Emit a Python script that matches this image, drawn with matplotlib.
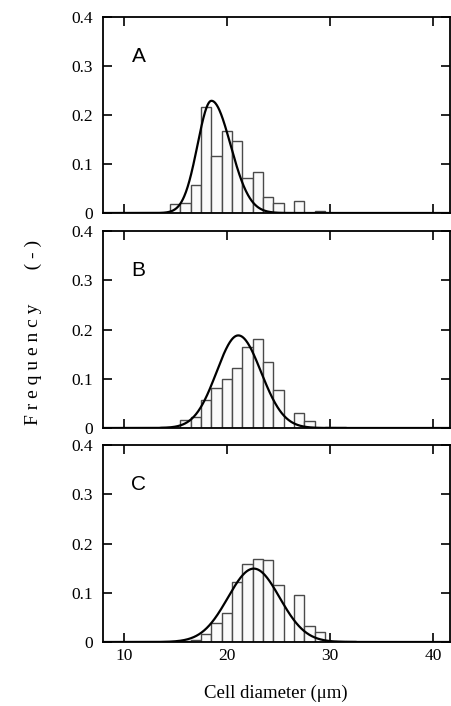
import numpy as np
import matplotlib
matplotlib.use("Agg")
import matplotlib.pyplot as plt
from matplotlib.ticker import FixedLocator, FuncFormatter

# ---------------- data ----------------
bin_centers = list(range(14, 33))  # cell diameter bins (um), width 1

freq_A = [0.000, 0.018, 0.020, 0.058, 0.216, 0.116, 0.168, 0.147, 0.071, 0.083,
          0.033, 0.021, 0.000, 0.024, 0.000, 0.004, 0.000, 0.000, 0.000]
freq_B = [0.002, 0.000, 0.016, 0.022, 0.057, 0.082, 0.100, 0.122, 0.165, 0.181,
          0.135, 0.077, 0.000, 0.031, 0.015, 0.000, 0.002, 0.002, 0.000]
freq_C = [0.000, 0.000, 0.002, 0.005, 0.016, 0.039, 0.059, 0.122, 0.158, 0.169,
          0.166, 0.115, 0.000, 0.096, 0.033, 0.020, 0.000, 0.002, 0.002]

panel_labels = ["A", "B", "C"]

# fitted distribution parameters (mode, peak height, left/right widths)
fit_mode = [18.5, 21.1, 22.6]
fit_peak = [0.229, 0.188, 0.149]
fit_sigma_left = [1.35, 2.1, 2.5]
fit_sigma_right = [1.85, 2.2, 2.5]

x_ticks = [10, 20, 30, 40]
y_ticks = [0, 0.1, 0.2, 0.3, 0.4]

# ---------------- figure ----------------
W, H = 451, 706
fig = plt.figure(figsize=(W / 100, H / 100), dpi=100)

serif = "Liberation Serif"
sans = "Liberation Sans"

left_px, right_px = 103, 450
panels_px = [(17, 213), (231, 428), (445, 642)]

all_freqs = [freq_A, freq_B, freq_C]

def ytick_fmt(v, pos):
    return "0" if abs(v) < 1e-9 else f"{v:.1f}"

for i, (top, bot) in enumerate(panels_px):
    ax = fig.add_axes([left_px / W, 1 - bot / H, (right_px - left_px) / W, (bot - top) / H])
    ax.bar(bin_centers, all_freqs[i], width=1.0, align="center",
           facecolor="#fafafa", edgecolor="#4a4a4a", linewidth=1.0, zorder=2)

    xs = np.linspace(8, 41.6, 800)
    sig = np.where(xs < fit_mode[i], fit_sigma_left[i], fit_sigma_right[i])
    ys = fit_peak[i] * np.exp(-(xs - fit_mode[i]) ** 2 / (2 * sig ** 2))
    ax.plot(xs, ys, color="black", linewidth=1.6, zorder=3)

    ax.set_xlim(8, 41.6)
    ax.set_ylim(0, 0.4)
    ax.xaxis.set_major_locator(FixedLocator(x_ticks))
    ax.yaxis.set_major_locator(FixedLocator(y_ticks))
    ax.yaxis.set_major_formatter(FuncFormatter(ytick_fmt))
    ax.tick_params(axis="both", which="major", direction="in", length=6.5, width=1.2,
                   top=True, right=True, labelsize=12.5, colors="black")
    ax.tick_params(axis="y", pad=7)
    ax.tick_params(axis="x", pad=4)
    for lab in ax.get_yticklabels():
        lab.set_fontfamily(serif)
    if i < 2:
        ax.tick_params(axis="x", labelbottom=False)
    else:
        for lab in ax.get_xticklabels():
            lab.set_fontfamily(serif)
    for sp in ax.spines.values():
        sp.set_linewidth(1.3)
        sp.set_color("black")
    ax.text(0.082, 0.80, panel_labels[i], transform=ax.transAxes,
            fontsize=15, family=sans, ha="left", va="center")

fig.text(276 / W, 1 - 693 / H, "Cell diameter (\u03bcm)", family=serif,
         fontsize=13.5, ha="center", va="center")
fig.text(33 / W, 1 - 332 / H, "F r e q u e n c y       ( - )", family=serif,
         fontsize=14, rotation=90, ha="center", va="center")

fig.savefig("out.png", dpi=100)
